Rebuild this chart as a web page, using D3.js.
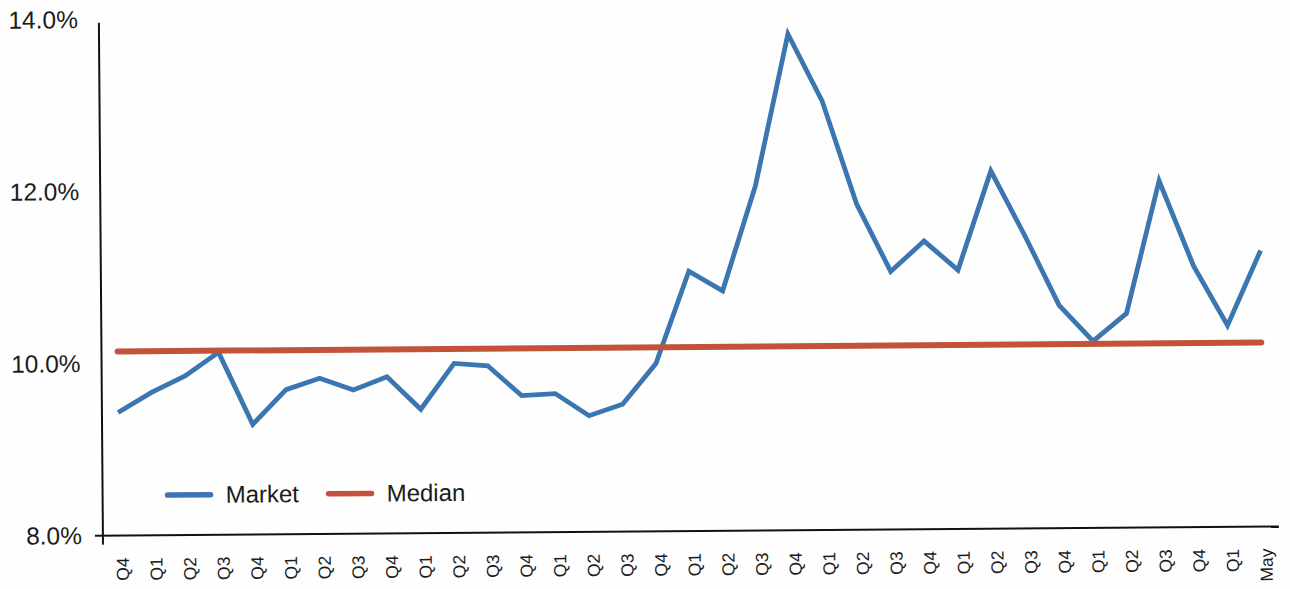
<!DOCTYPE html>
<html>
<head>
<meta charset="utf-8">
<script src="https://cdn.jsdelivr.net/npm/d3@7"></script>
<style>
  html, body { margin: 0; padding: 0; background: #fefefe; }
  svg { display: block; }
  text { font-family: "Liberation Sans", Arial, Helvetica, sans-serif; fill: #1c1c1c; }
</style>
</head>
<body>
<svg id="chart" width="1290" height="589"></svg>
<script>
// Period labels along the horizontal axis
const periods = ["Q4","Q1","Q2","Q3","Q4","Q1","Q2","Q3","Q4","Q1","Q2","Q3",
                 "Q4","Q1","Q2","Q3","Q4","Q1","Q2","Q3","Q4","Q1","Q2","Q3",
                 "Q4","Q1","Q2","Q3","Q4","Q1","Q2","Q3","Q4","Q1","May"];

// Market rate per period (%)
const market = [9.43, 9.66, 9.85, 10.12, 9.28, 9.68, 9.81, 9.67, 9.82, 9.44, 9.97, 9.94,
                9.59, 9.61, 9.35, 9.48, 9.95, 11.02, 10.79, 12.01, 13.77, 12.99, 11.79, 11.00,
                11.35, 11.01, 12.16, 11.40, 10.59, 10.17, 10.49, 12.03, 11.04, 10.34, 11.21];

// Long-run median rate (%)
const medianRate = 10.14;

// Value axis ticks (%)
const yTicks = [8, 10, 12, 14];

const legendItems = [
  { name: "Market", color: "#3b76b0" },
  { name: "Median", color: "#c2523a" }
];

const svg = d3.select("#chart");
const plot = { left: 101, right: 1277, top: 15, bottom: 531 };

// The whole plot sits at a slight tilt
const g = svg.append("g").attr("transform", "rotate(-0.45, 690, 290)");

const idx = d3.range(periods.length);
const x = d3.scalePoint().domain(idx).range([plot.left, plot.right]).padding(0.48);
const y = d3.scaleLinear().domain([8, 14]).range([plot.bottom, plot.top]);

// Market line
const marketLine = d3.line()
  .x(i => x(i))
  .y(i => y(market[i]));

// Median line
const medianLine = d3.line()
  .x(i => x(i))
  .y(() => y(medianRate));

g.append("path")
  .datum(idx)
  .attr("d", marketLine)
  .attr("fill", "none")
  .attr("stroke", legendItems[0].color)
  .attr("stroke-width", 4.8)
  .attr("stroke-linejoin", "miter");

g.append("path")
  .datum([idx[0], idx[idx.length - 1]])
  .attr("d", medianLine)
  .attr("fill", "none")
  .attr("stroke", legendItems[1].color)
  .attr("stroke-width", 6)
  .attr("stroke-linecap", "round");

// Y axis labels
const yAxis = d3.axisLeft(y)
  .tickValues(yTicks)
  .tickSize(0)
  .tickPadding(21)
  .tickFormat(d => d.toFixed(1) + "%");

const yg = g.append("g").attr("transform", `translate(${plot.left},0)`).call(yAxis);
yg.select(".domain").remove();
yg.selectAll("text")
  .attr("font-size", 24.5)
  .attr("font-family", "Liberation Sans, Arial, sans-serif")
  .attr("fill", "#1c1c1c");

// X axis labels
const xAxis = d3.axisBottom(x)
  .tickSize(0)
  .tickFormat(i => periods[i]);

const xg = g.append("g").attr("transform", `translate(3,${plot.bottom})`).call(xAxis);
xg.select(".domain").remove();
xg.selectAll("text")
  .attr("transform", "rotate(-90)")
  .attr("text-anchor", "end")
  .attr("x", -22)
  .attr("y", 0)
  .attr("dy", "0.35em")
  .attr("font-size", 17.5)
  .attr("font-family", "Liberation Sans, Arial, sans-serif")
  .attr("fill", "#1c1c1c");

// Axis lines
g.append("line")
  .attr("x1", plot.left).attr("x2", plot.left)
  .attr("y1", plot.top + 3).attr("y2", plot.bottom + 9)
  .attr("stroke", "#111").attr("stroke-width", 2);
g.append("line")
  .attr("x1", plot.left - 8).attr("x2", plot.right)
  .attr("y1", plot.bottom).attr("y2", plot.bottom)
  .attr("stroke", "#111").attr("stroke-width", 2);

// Legend
const legend = g.append("g").attr("transform", "translate(166,491)");
const legendX = [0, 161];
legendItems.forEach((d, i) => {
  const item = legend.append("g").attr("transform", `translate(${legendX[i]},0)`);
  item.append("line")
    .attr("x1", 0).attr("x2", 43)
    .attr("y1", 0).attr("y2", 0)
    .attr("stroke", d.color)
    .attr("stroke-width", 5.5)
    .attr("stroke-linecap", "round");
  item.append("text")
    .attr("x", 58).attr("y", 8)
    .attr("font-size", 24)
    .text(d.name);
});
</script>
</body>
</html>
